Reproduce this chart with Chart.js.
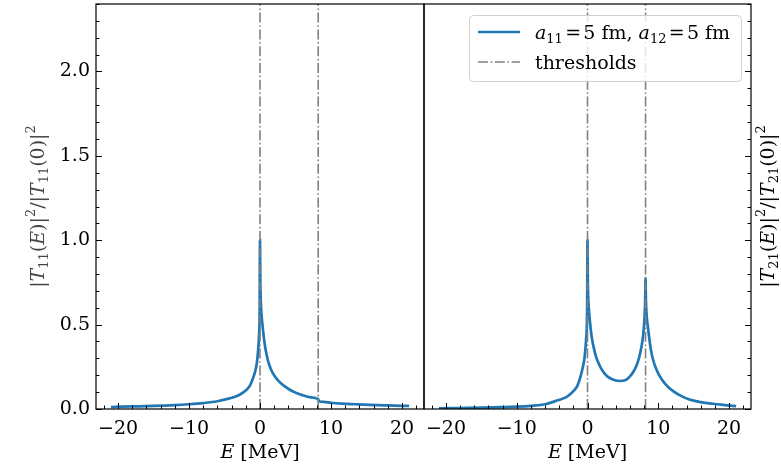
<!DOCTYPE html>
<html>
<head>
<meta charset="utf-8">
<script src="https://cdn.jsdelivr.net/npm/chart.js@4/dist/chart.umd.min.js"></script>
<style>
  body { margin: 0; background: #fff; }
  #wrap { position: relative; width: 781px; height: 464px; }
  canvas { position: absolute; top: 0; }
</style>
</head>
<body>
<div id="wrap">
  <canvas id="left" width="430" height="464" style="left:0"></canvas>
  <canvas id="right" width="363" height="464" style="left:418px"></canvas>
</div>
<script>
// |T11(E)|^2 / |T11(0)|^2
const energy11 = [-21, -18, -15, -12, -10, -8, -6, -4.3, -3, -2.4, -1.8, -1.4, -1, -0.7, -0.45, -0.3, -0.15, -0.05, 0,
  0.05, 0.15, 0.3, 0.47, 0.7, 0.94, 1.2, 1.6, 2.1, 2.7, 3.4, 4.2, 5, 6, 7, 8.2, 8.3, 9, 10, 11.5, 13.4, 15.5, 18, 21];
const t11 = [0.012, 0.015, 0.018, 0.023, 0.028, 0.035, 0.046, 0.063, 0.082, 0.097, 0.118, 0.14, 0.18, 0.22, 0.27, 0.33, 0.42, 0.58, 1.0,
  0.75, 0.6, 0.52, 0.45, 0.375, 0.32, 0.275, 0.23, 0.192, 0.162, 0.137, 0.114, 0.097, 0.082, 0.07, 0.059, 0.046, 0.042, 0.037, 0.032, 0.028, 0.024, 0.021, 0.018];

// |T21(E)|^2 / |T21(0)|^2
const energy21 = [-21, -18, -15, -12, -10, -8, -6, -4.3, -3, -2.4, -1.8, -1.4, -1, -0.7, -0.4, -0.2, -0.05, 0,
  0.05, 0.15, 0.32, 0.55, 0.8, 1.2, 1.74, 2.2, 2.7, 3.4, 4.5, 5.4, 6.0, 6.5, 6.9, 7.3, 7.63, 7.9, 8.05, 8.15, 8.2,
  8.25, 8.35, 8.55, 9.0, 9.5, 10.2, 11, 12.1, 13.2, 14.4, 16, 17.7, 19.5, 21];
const t21 = [0.004, 0.006, 0.008, 0.011, 0.014, 0.019, 0.028, 0.05, 0.07, 0.09, 0.115, 0.14, 0.19, 0.24, 0.31, 0.41, 0.6, 1.0,
  0.75, 0.62, 0.53, 0.44, 0.38, 0.31, 0.255, 0.222, 0.197, 0.178, 0.166, 0.172, 0.193, 0.222, 0.255, 0.305, 0.37, 0.45, 0.54, 0.64, 0.776,
  0.65, 0.56, 0.48, 0.34, 0.26, 0.195, 0.148, 0.106, 0.078, 0.056, 0.041, 0.031, 0.023, 0.017];

const thresholds = [0, 8.2];
const xTicks = [-20, -10, 0, 10, 20];
const yTicks = [0, 0.5, 1.0, 1.5, 2.0];
const xRange = [-23.1, 23.1];
const yRange = [0, 2.4];

const SERIF = '"DejaVu Serif", serif';
const FS = 19;
const BLUE = '#1f77b4';
const GRAY = '#808080';
const DASHDOT = [10, 2.6, 1.6, 2.6];

// label pieces: [text, style]  n = normal, i = italic, b = subscript, p = superscript, g = gap in em
const yLabel11 = [['|', 'n'], ['T', 'i'], ['11', 'b'], ['(', 'n'], ['E', 'i'], [')|', 'n'], ['2', 'p'], ['/|', 'n'],
  ['T', 'i'], ['11', 'b'], ['(0)|', 'n'], ['2', 'p']];
const yLabel21 = [['|', 'n'], ['T', 'i'], ['21', 'b'], ['(', 'n'], ['E', 'i'], [')|', 'n'], ['2', 'p'], ['/|', 'n'],
  ['T', 'i'], ['21', 'b'], ['(0)|', 'n'], ['2', 'p']];
const xLabel = [['E', 'i'], [' [MeV]', 'n']];
const curveLabel = [['a', 'i'], ['11', 'b'], [0.12, 'g'], ['=', 'n'], [0.12, 'g'], ['5 fm, ', 'n'],
  ['a', 'i'], ['12', 'b'], [0.12, 'g'], ['=', 'n'], [0.12, 'g'], ['5 fm', 'n']];

function pieceFont(style, size) {
  if (style === 'i') return 'italic ' + size + 'px ' + SERIF;
  if (style === 'b' || style === 'p') return Math.round(size * 0.7) + 'px ' + SERIF;
  return size + 'px ' + SERIF;
}

function pieceWidth(ctx, p, size) {
  if (p[1] === 'g') return p[0] * size;
  ctx.font = pieceFont(p[1], size);
  return ctx.measureText(p[0]).width;
}

function drawMath(ctx, parts, x, y, size, align) {
  let w = 0;
  parts.forEach(p => { w += pieceWidth(ctx, p, size); });
  let cx = align === 'center' ? x - w / 2 : x;
  ctx.textBaseline = 'alphabetic';
  ctx.textAlign = 'left';
  parts.forEach(p => {
    if (p[1] !== 'g') {
      ctx.font = pieceFont(p[1], size);
      let dy = 0;
      if (p[1] === 'b') dy = size * 0.22;
      if (p[1] === 'p') dy = -size * 0.45;
      ctx.fillText(p[0], cx, y + dy);
    }
    cx += pieceWidth(ctx, p, size);
  });
}

function framePlugin(side, yLabel, labelColor) {
  return {
    id: 'frame',
    afterDraw(chart) {
      const ctx = chart.ctx;
      const a = chart.chartArea;
      const xs = chart.scales.x, ys = chart.scales.y;
      ctx.save();
      ctx.strokeStyle = '#000';
      ctx.lineWidth = 1;
      // x ticks on the bottom, pointing in
      for (let v = -22; v <= 22; v += 2) {
        const px = Math.round(xs.getPixelForValue(v)) + 0.5;
        const len = xTicks.includes(v) ? 6 : 3.5;
        ctx.beginPath(); ctx.moveTo(px, a.bottom); ctx.lineTo(px, a.bottom - len); ctx.stroke();
      }
      // y ticks on the outer side
      for (let i = 0; i <= 24; i++) {
        const v = i / 10;
        const py = Math.round(ys.getPixelForValue(v)) + 0.5;
        const len = i % 5 === 0 ? 6 : 3.5;
        ctx.beginPath();
        if (side === 'left') { ctx.moveTo(a.left, py); ctx.lineTo(a.left + len, py); }
        else { ctx.moveTo(a.right, py); ctx.lineTo(a.right - len, py); }
        ctx.stroke();
      }
      ctx.lineWidth = 1.2;
      ctx.strokeRect(a.left, a.top, a.right - a.left, a.bottom - a.top);

      // axis titles
      ctx.fillStyle = '#000';
      drawMath(ctx, xLabel, (a.left + a.right) / 2, 458, FS, 'center');
      ctx.fillStyle = labelColor;
      const cx = side === 'left' ? 43.5 : a.right + 23;
      ctx.translate(cx, (a.top + a.bottom) / 2);
      ctx.rotate(-Math.PI / 2);
      drawMath(ctx, yLabel, 0, 0, FS, 'center');
      ctx.restore();

      if (side === 'right') {
        // legend box, top right of the panel
        const bx = a.right - 282, by = a.top + 11, bw = 272, bh = 66;
        ctx.save();
        ctx.fillStyle = 'rgba(255,255,255,0.8)';
        ctx.strokeStyle = '#d0d0d0';
        ctx.lineWidth = 1;
        ctx.beginPath();
        ctx.roundRect(bx + 0.5, by + 0.5, bw, bh, 4);
        ctx.fill(); ctx.stroke();
        ctx.lineWidth = 2.6;
        ctx.strokeStyle = BLUE;
        ctx.beginPath(); ctx.moveTo(bx + 9, by + 17); ctx.lineTo(bx + 51, by + 17); ctx.stroke();
        ctx.lineWidth = 1.6;
        ctx.strokeStyle = GRAY;
        ctx.setLineDash(DASHDOT);
        ctx.beginPath(); ctx.moveTo(bx + 9, by + 47); ctx.lineTo(bx + 51, by + 47); ctx.stroke();
        ctx.setLineDash([]);
        ctx.fillStyle = '#000';
        drawMath(ctx, curveLabel, bx + 66, by + 24, FS, 'left');
        drawMath(ctx, [['thresholds', 'n']], bx + 66, by + 54, FS, 'left');
        ctx.restore();
      }
    }
  };
}

function makeChart(id, energy, values, side, yLabel, labelColor) {
  const datasets = thresholds.map(t => ({
    data: [{ x: t, y: yRange[0] }, { x: t, y: yRange[1] }],
    borderColor: GRAY,
    borderWidth: 1.6,
    borderDash: DASHDOT,
    pointRadius: 0,
    order: 0
  }));
  datasets.push({
    data: energy.map((e, i) => ({ x: e, y: values[i] })),
    borderColor: BLUE,
    borderWidth: 2.7,
    pointRadius: 0,
    cubicInterpolationMode: 'monotone',
    order: 1
  });

  return new Chart(document.getElementById(id), {
    type: 'line',
    data: { datasets: datasets },
    options: {
      responsive: false,
      animation: false,
      events: [],
      layout: {
        padding: side === 'left' ? { top: 4, right: 6, left: 0, bottom: 0 } : { top: 4, right: 0, left: 6, bottom: 0 }
      },
      plugins: { legend: { display: false }, tooltip: { enabled: false } },
      scales: {
        x: {
          type: 'linear',
          min: xRange[0],
          max: xRange[1],
          grid: { display: false, drawTicks: false },
          border: { display: false },
          afterBuildTicks: s => { s.ticks = xTicks.map(v => ({ value: v })); },
          afterFit: s => { s.height = 55; s.paddingLeft = 0; s.paddingRight = 0; },
          ticks: {
            padding: 9,
            color: '#000',
            maxRotation: 0,
            font: { family: SERIF, size: FS },
            callback: v => String(v).replace('-', '\u2212')
          }
        },
        y: {
          type: 'linear',
          position: side,
          min: yRange[0],
          max: yRange[1],
          grid: { display: false, drawTicks: false },
          border: { display: false },
          afterBuildTicks: s => { s.ticks = yTicks.map(v => ({ value: v })); },
          afterFit: s => { s.width = side === 'left' ? 96 : 30; s.paddingTop = 0; s.paddingBottom = 0; },
          ticks: {
            display: side === 'left',
            padding: 6,
            color: '#000',
            font: { family: SERIF, size: FS },
            callback: v => Number(v).toFixed(1)
          }
        }
      }
    },
    plugins: [framePlugin(side, yLabel, labelColor)]
  });
}

makeChart('left', energy11, t11, 'left', yLabel11, '#444');
makeChart('right', energy21, t21, 'right', yLabel21, '#000');
</script>
</body>
</html>
